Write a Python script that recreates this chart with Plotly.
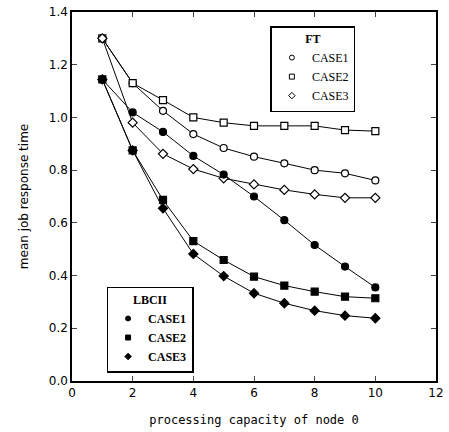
import plotly.graph_objects as go

x_vals = [1, 2, 3, 4, 5, 6, 7, 8, 9, 10]

ft_case1 = [1.30, 1.13, 1.025, 0.937, 0.884, 0.851, 0.826, 0.800, 0.788, 0.761]
ft_case2 = [1.30, 1.13, 1.066, 1.000, 0.980, 0.968, 0.968, 0.968, 0.952, 0.948]
ft_case3 = [1.30, 0.98, 0.862, 0.804, 0.769, 0.746, 0.725, 0.708, 0.695, 0.695]

lb_case1 = [1.144, 1.019, 0.945, 0.854, 0.783, 0.700, 0.610, 0.516, 0.434, 0.355]
lb_case2 = [1.144, 0.875, 0.687, 0.531, 0.459, 0.396, 0.362, 0.339, 0.320, 0.314]
lb_case3 = [1.144, 0.875, 0.655, 0.482, 0.398, 0.333, 0.295, 0.267, 0.248, 0.238]

x_ticks = [0, 2, 4, 6, 8, 10, 12]
y_ticks = [0.0, 0.2, 0.4, 0.6, 0.8, 1.0, 1.2, 1.4]

series = [
    ("CASE1", ft_case1, "circle", 7, "white", "legend"),
    ("CASE2", ft_case2, "square", 7, "white", "legend"),
    ("CASE3", ft_case3, "diamond", 7, "white", "legend"),
    ("CASE1", lb_case1, "circle", 7, "black", "legend2"),
    ("CASE2", lb_case2, "square", 7, "black", "legend2"),
    ("CASE3", lb_case3, "diamond", 7, "black", "legend2"),
]

fig = go.Figure()
for name, ys, sym, sz, fill, leg in series:
    fig.add_trace(go.Scatter(
        x=x_vals, y=ys, name=name, mode="lines+markers",
        line=dict(color="black", width=1),
        marker=dict(symbol=sym, size=sz, color=fill, line=dict(color="black", width=1.2)),
        showlegend=False,
    ))
for name, ys, sym, sz, fill, leg in series:
    fig.add_trace(go.Scatter(
        x=[None], y=[None], name=name, mode="markers",
        marker=dict(symbol=sym, size=5, color=fill, line=dict(color="black", width=1)),
        legend=leg, showlegend=True,
    ))

legend_font = dict(family="Liberation Serif", size=12, color="black")
fig.update_layout(
    width=449, height=432,
    margin=dict(l=72, r=13, t=12, b=51),
    paper_bgcolor="white", plot_bgcolor="white",
    showlegend=True,
    legend=dict(
        x=0.545, y=0.962, xanchor="left", yanchor="top",
        bordercolor="black", borderwidth=1.5, bgcolor="white",
        font=legend_font, tracegroupgap=0,
        title=dict(text="<b>FT</b>", side="top center", font=legend_font),
        itemwidth=30,
    ),
    legend2=dict(
        x=0.095, y=0.255, xanchor="left", yanchor="top",
        bordercolor="black", borderwidth=1.5, bgcolor="white",
        font=dict(family="Liberation Serif", size=12, color="black", weight="bold"),
        tracegroupgap=0,
        title=dict(text="<b>LBCII</b>", side="top center", font=legend_font),
        itemwidth=30,
    ),
    xaxis=dict(
        range=[0, 12], tickvals=x_ticks, ticktext=[str(v) for v in x_ticks],
        ticks="inside", ticklen=5, mirror="ticks", showline=True, linecolor="black",
        linewidth=1.5, showgrid=False, zeroline=False, automargin=False,
        tickfont=dict(family="DejaVu Sans", size=12, color="black"),
        title=dict(text="processing capacity of node 0",
                   font=dict(family="DejaVu Sans Mono", size=12, color="black"), standoff=16),
    ),
    yaxis=dict(
        range=[0, 1.4], tickvals=y_ticks, ticktext=[f"{v:.1f}" for v in y_ticks],
        ticks="inside", ticklen=5, mirror="ticks", showline=True, linecolor="black",
        linewidth=1.5, showgrid=False, zeroline=False, automargin=False,
        tickfont=dict(family="DejaVu Sans", size=12, color="black"),
        title=dict(text="mean job response time",
                   font=dict(family="DejaVu Sans", size=12, color="black"), standoff=18),
    ),
)

fig.write_html("out.html")
